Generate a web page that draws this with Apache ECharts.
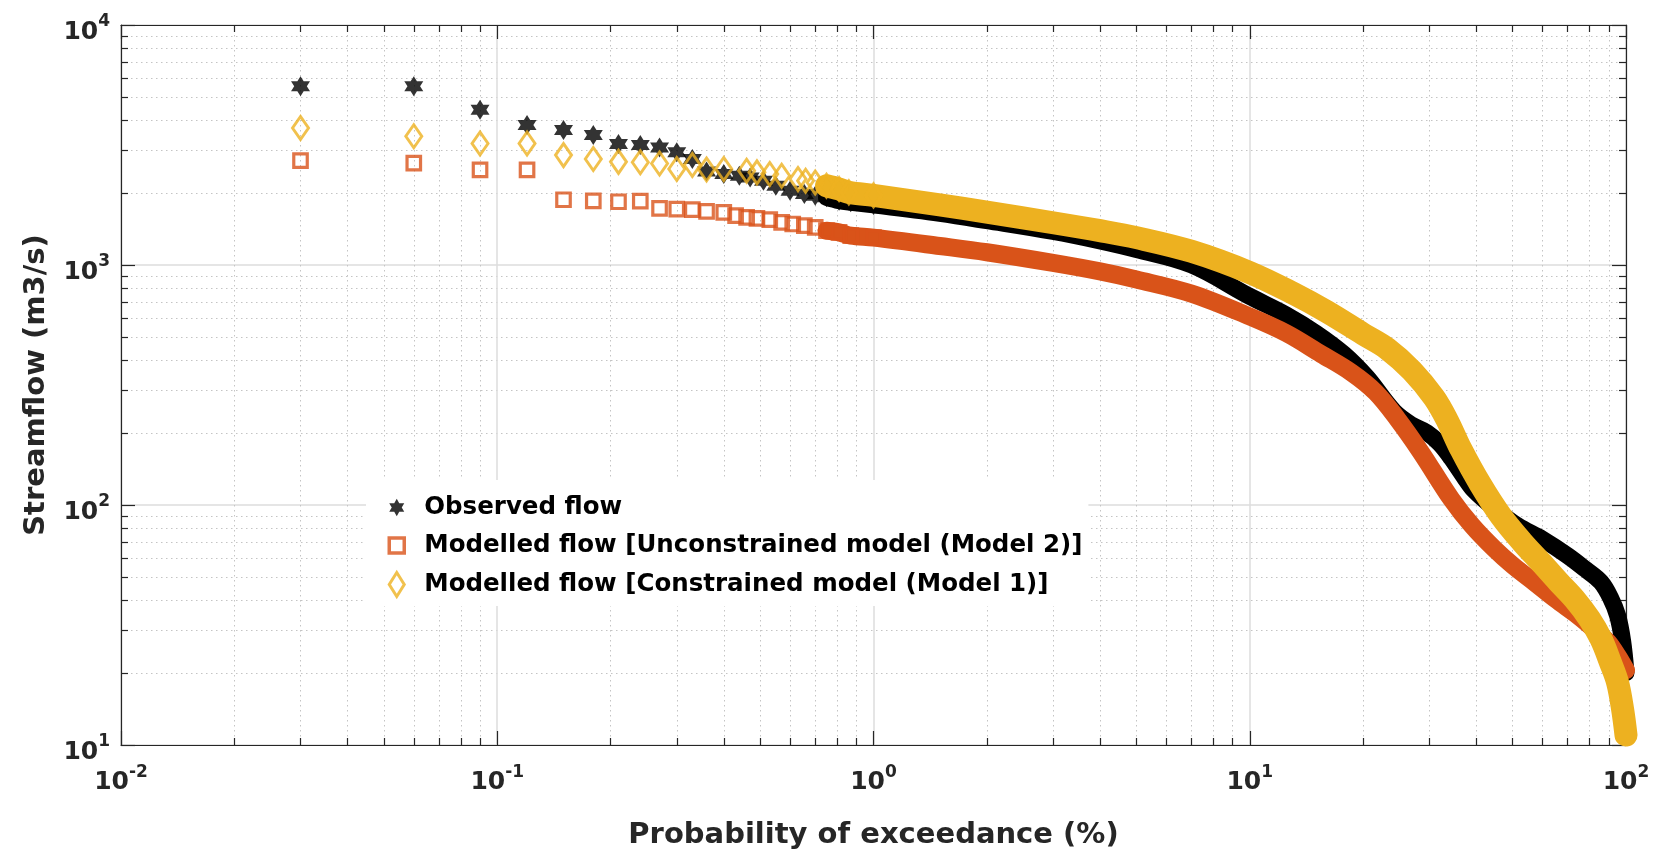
<!DOCTYPE html>
<html>
<head>
<meta charset="utf-8">
<script src="https://cdn.jsdelivr.net/npm/echarts@6/dist/echarts.min.js"></script>
<style>
html,body{margin:0;padding:0;background:#ffffff;}
#chart{width:1662px;height:855px;}
</style>
</head>
<body>
<div id="chart"></div>
<script>
// ---------------- DATA ----------------
// Observed flow: probability of exceedance (%) and streamflow (m3/s)
const obsX = [0.03, 0.06, 0.09, 0.12, 0.15, 0.18, 0.21, 0.24, 0.27, 0.30, 0.33, 0.36, 0.40, 0.44, 0.47, 0.51, 0.55, 0.60, 0.655, 0.70, 0.75, 0.81, 0.87,
  1.0, 1.5, 2, 3, 4, 5, 7, 10, 12.5, 15, 17.8, 20.5, 24.2, 27, 29.6, 32, 34.3, 37, 39.5, 45, 51.5, 60, 70, 78, 85.8, 91, 95, 98, 100];
const obsY = [5550, 5550, 4430, 3830, 3650, 3480, 3190, 3160, 3090, 2950, 2765, 2450, 2393, 2355, 2317, 2244, 2138, 2040, 1976, 1945, 1914, 1854, 1824,
  1780, 1640, 1530, 1380, 1260, 1160, 1000, 740, 620, 520, 425, 340, 245, 215, 200, 180, 157, 132, 115, 96, 82, 72, 61.5, 54, 47.7, 41, 34.6, 27, 20];

// Modelled flow, unconstrained model (Model 2)
const m2X = [0.03, 0.06, 0.09, 0.12, 0.15, 0.18, 0.21, 0.24, 0.27, 0.30, 0.33, 0.36, 0.40, 0.43, 0.46, 0.49, 0.53, 0.57, 0.61, 0.655, 0.70, 0.75, 0.81, 0.87,
  1.0, 1.5, 2, 3, 4, 5, 7, 10, 12.5, 15.5, 18.6, 21.6, 24.7, 28.5, 34.3, 39, 44.7, 50, 57, 65, 74.5, 82, 89.6, 95, 100];
const m2Y = [2720, 2660, 2490, 2490, 1870, 1850, 1835, 1845, 1722, 1710, 1701, 1673, 1656, 1606, 1580, 1563, 1544, 1505, 1482, 1459, 1436, 1390, 1368, 1325,
  1300, 1200, 1130, 1020, 940, 870, 760, 610, 520, 425, 357, 295, 228, 166, 106, 82, 65.6, 56, 47.7, 40.5, 34.6, 30.5, 26.8, 23.5, 20.5];

// Modelled flow, constrained model (Model 1)
const m1X = [0.03, 0.06, 0.09, 0.12, 0.15, 0.18, 0.21, 0.24, 0.27, 0.30, 0.33, 0.36, 0.40, 0.46, 0.49, 0.53, 0.57, 0.63, 0.66, 0.70, 0.75, 0.81, 0.86,
  1.0, 1.5, 2, 3, 4, 5, 7, 10, 13, 16, 20, 23.2, 27, 30.9, 33.5, 36.4, 41, 46.5, 53, 59.4, 66, 72.9, 80, 85.8, 91, 95, 98, 100];
const m1Y = [3720, 3440, 3210, 3210, 2870, 2765, 2690, 2680, 2650, 2510, 2610, 2500, 2512, 2472, 2432, 2393, 2355, 2280, 2244, 2208, 2138, 2073, 2008,
  1950, 1780, 1660, 1500, 1390, 1300, 1140, 930, 764, 640, 516, 448, 362, 280, 225, 171, 122, 90, 70, 57.7, 48, 40.6, 33.5, 27.7, 22, 18.2, 14, 11];

// Series names (legend text)
const seriesNames = [
  'Observed flow',
  'Modelled flow [Unconstrained model (Model 2)]',
  'Modelled flow [Constrained model (Model 1)]'
];

// Axis labels and ticks
const xTitle = 'Probability of exceedance (%)';
const yTitle = 'Streamflow (m3/s)';
const xRange = [0.01, 100];
const yRange = [10, 10000];
const minorMultipliers = [2, 3, 4, 5, 6, 7, 8, 9];
const xDecades = [0.01, 0.1, 1, 10];
const yDecades = [10, 100, 1000];

// ---------------- BUILD ----------------
function minorTicks(decades) {
  const out = [];
  decades.forEach(d => minorMultipliers.forEach(m => out.push(+(d * m).toPrecision(6))));
  return out;
}
const xMinor = minorTicks(xDecades);
const yMinor = minorTicks(yDecades);

function pairs(xs, ys, test) {
  const out = [];
  for (let i = 0; i < xs.length; i++) if (test(xs[i])) out.push([xs[i], ys[i]]);
  return out;
}
const MARK_END = 1.0;    // discrete markers drawn up to here
const BAND_START = 0.75; // dense band (overlapping markers) drawn from here

const FONT = 'DejaVu Sans';
const TXT = '#262626';
const RED = '#D95319';
const YEL = '#EDB120';
const STAR = 'path://M0,-1L0.2887,-0.5L0.866,-0.5L0.577,0L0.866,0.5L0.2887,0.5L0,1L-0.2887,0.5L-0.866,0.5L-0.577,0L-0.866,-0.5L-0.2887,-0.5Z';
const SQUARE = 'path://M0,0L1,0L1,1L0,1Z';

const rich = {
  b: { fontFamily: FONT, fontWeight: 'bold', fontSize: 25, color: TXT, padding: [14, 0, 0, 0] },
  s: { fontFamily: FONT, fontWeight: 'bold', fontSize: 17, color: TXT, padding: [0, 0, 6, 0] }
};
function powLabel(v) {
  const e = Math.round(Math.log10(v));
  return '{b|10}{s|' + e + '}';
}

function xAxisCfg(position, major, showLabel) {
  return {
    type: 'log', logBase: 10, min: xRange[0], max: xRange[1], position: position,
    axisLine: { show: major, onZero: false, lineStyle: { color: TXT, width: 1.2 } },
    axisTick: major
      ? { show: true, inside: true, length: 14, lineStyle: { color: TXT, width: 1.2 } }
      : { show: true, inside: true, length: 7, customValues: xMinor, lineStyle: { color: TXT, width: 1.2 } },
    axisLabel: showLabel
      ? { show: true, formatter: powLabel, rich: rich, margin: 11 }
      : { show: false },
    splitLine: position === 'bottom'
      ? (major ? { show: true, lineStyle: { color: '#dcdcdc', width: 1.5 } }
               : { show: true, lineStyle: { color: '#c4c4c4', width: 1, type: [1.5, 3.5] } })
      : { show: false },
    minorTick: { show: false }, minorSplitLine: { show: false },
    name: showLabel ? xTitle : '',
    nameLocation: 'middle', nameGap: 76,
    nameTextStyle: { fontFamily: FONT, fontWeight: 'bold', fontSize: 29, color: TXT }
  };
}
function yAxisCfg(position, major, showLabel) {
  return {
    type: 'log', logBase: 10, min: yRange[0], max: yRange[1], position: position,
    axisLine: { show: major, onZero: false, lineStyle: { color: TXT, width: 1.2 } },
    axisTick: major
      ? { show: true, inside: true, length: 14, lineStyle: { color: TXT, width: 1.2 } }
      : { show: true, inside: true, length: 7, customValues: yMinor, lineStyle: { color: TXT, width: 1.2 } },
    axisLabel: showLabel
      ? { show: true, formatter: powLabel, rich: rich, margin: 11 }
      : { show: false },
    splitLine: position === 'left'
      ? (major ? { show: true, lineStyle: { color: '#dcdcdc', width: 1.5 } }
               : { show: true, lineStyle: { color: '#c4c4c4', width: 1, type: [1.5, 3.5] } })
      : { show: false },
    minorTick: { show: false }, minorSplitLine: { show: false },
    name: showLabel ? yTitle : '',
    nameLocation: 'middle', nameGap: 70,
    nameTextStyle: { fontFamily: FONT, fontWeight: 'bold', fontSize: 29, color: TXT }
  };
}

function bandSeries(name, xs, ys, color, width, z) {
  return {
    name: name + ' (band)', type: 'line', xAxisIndex: 0, yAxisIndex: 0,
    data: pairs(xs, ys, x => x >= BAND_START),
    showSymbol: false, symbol: 'none', smooth: 0.35, z: z,
    lineStyle: { color: color, width: width, cap: 'round', join: 'round' },
    silent: true, animation: false
  };
}
function markerSeries(name, xs, ys, symbol, size, itemStyle, z) {
  return {
    name: name, type: 'scatter', xAxisIndex: 0, yAxisIndex: 0,
    data: pairs(xs, ys, x => x <= MARK_END),
    symbol: symbol, symbolSize: size, z: z,
    itemStyle: itemStyle, silent: true, animation: false
  };
}

const option = {
  animation: false,
  backgroundColor: '#ffffff',
  grid: { left: 121, right: 36, top: 25, bottom: 109, containLabel: false },
  xAxis: [
    xAxisCfg('bottom', true, true),
    xAxisCfg('bottom', false, false),
    xAxisCfg('top', true, false),
    xAxisCfg('top', false, false)
  ],
  yAxis: [
    yAxisCfg('left', true, true),
    yAxisCfg('left', false, false),
    yAxisCfg('right', true, false),
    yAxisCfg('right', false, false)
  ],
  legend: {
    orient: 'vertical', left: 366, top: 480,
    backgroundColor: '#ffffff',
    padding: [15, 6, 8, 21.5],
    itemWidth: 15, itemHeight: 24, itemGap: 13,
    selectedMode: false,
    textStyle: { fontFamily: FONT, fontWeight: 'bold', fontSize: 24.5, color: '#000', lineHeight: 24, padding: [0, 0, 0, 15] },
    data: [
      { name: seriesNames[0], icon: STAR, itemStyle: { color: '#000', borderWidth: 0 } },
      { name: seriesNames[1], icon: SQUARE, itemStyle: { color: '#ffffff', borderColor: RED, borderWidth: 3.5 } },
      { name: seriesNames[2], icon: 'diamond', itemStyle: { color: '#ffffff', borderColor: YEL, borderWidth: 3 } }
    ],
    z: 20
  },
  series: [
    bandSeries(seriesNames[0], obsX, obsY, '#000000', 17, 3),
    markerSeries(seriesNames[0], obsX, obsY, STAR, [19, 20], { color: '#000000', borderWidth: 0 }, 4),
    bandSeries(seriesNames[1], m2X, m2Y, RED, 18, 5),
    markerSeries(seriesNames[1], m2X, m2Y, 'rect', 13.5, { color: 'rgba(255,255,255,0)', borderColor: RED, borderWidth: 3.2 }, 6),
    bandSeries(seriesNames[2], m1X, m1Y, YEL, 23, 7),
    markerSeries(seriesNames[2], m1X, m1Y, 'diamond', [16, 23], { color: 'rgba(255,255,255,0)', borderColor: YEL, borderWidth: 3 }, 8)
  ]
};

const chart = echarts.init(document.getElementById('chart'), null, { renderer: 'canvas' });
chart.setOption(option);
</script>
</body>
</html>
